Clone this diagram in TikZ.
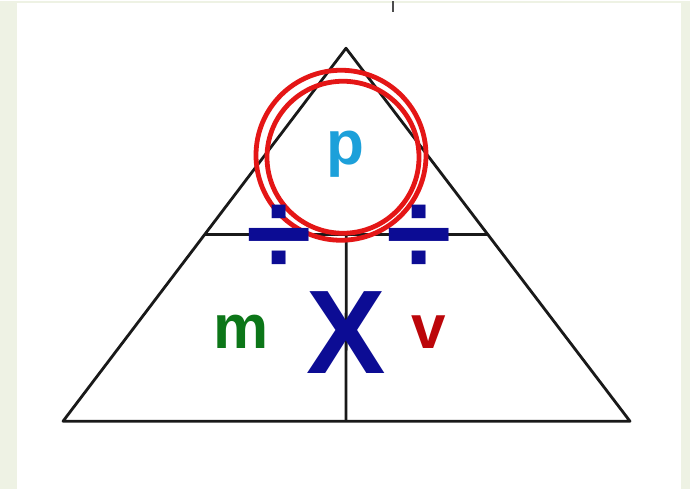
\documentclass[tikz,border=0pt]{standalone}
\usepackage{fontspec}
\setmainfont{Liberation Sans}
\usetikzlibrary{positioning, calc}

\definecolor{bgtint}{RGB}{238,242,228}
\definecolor{ringred}{RGB}{228,22,22}
\definecolor{pblue}{RGB}{28,160,218}
\definecolor{mgreen}{RGB}{12,118,24}
\definecolor{vred}{RGB}{188,6,10}
\definecolor{opblue}{RGB}{12,12,148}

\begin{document}
\begin{tikzpicture}[x=1pt, y=-1pt,
    edge/.style={line width=2.8pt, black!90, line join=round},
    ring/.style={draw=ringred, line width=4.8pt},
    letter/.style={font=\fontsize{62}{62}\selectfont\bfseries, inner sep=0pt, anchor=base},
    opsign/.style={text=opblue, inner sep=0pt, font=\fontsize{119}{119}\selectfont\bfseries}
]
    % slide background
    \fill[bgtint] (0,0) rectangle (690,488);
    \fill[white] (17,2) rectangle (681,488);
    \draw[black!70, line width=2.5pt] (393,0) -- (393,11);

    % triangle
    \coordinate (apex) at (346,47);
    \coordinate (bl) at (63,420);
    \coordinate (br) at (630,420);
    \coordinate (ml) at ($(apex)!0.4987!(bl)$);
    \coordinate (mr) at ($(apex)!0.4987!(br)$);
    \coordinate (mid) at ($(ml)!0.5!(mr)$);
    \coordinate (bm) at (346,420);
    \draw[edge] (apex) -- (bl) -- (br) -- cycle;
    \draw[edge] (ml) -- (mr);
    \draw[edge] (mid) -- (bm);

    % highlight rings
    \draw[ring] (341,154) circle (85);
    \draw[ring] (343,156) circle (76);

    % letters
    \node[letter, text=pblue] (p) at (345,163) {p};
    \node[letter, text=mgreen] (m) at (241,347) {m};
    \node[letter, text=vred] (v) at (429,347) {v};
    \node[opsign, anchor=base] (times) at (346,372) {X};
    \node[opsign] (divl) at (279,239) {÷};
    \node[opsign] (divr) at (419,239) {÷};
\end{tikzpicture}
\end{document}
